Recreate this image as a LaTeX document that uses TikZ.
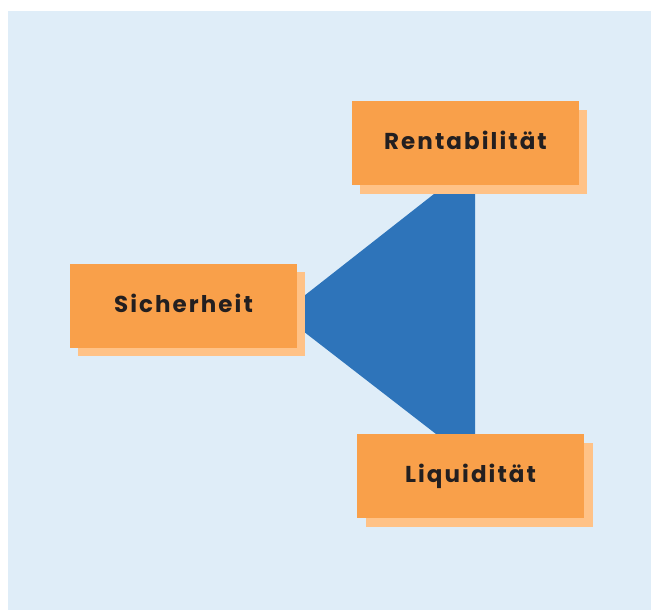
\documentclass[tikz,border=0pt]{standalone}
\usepackage{fontspec}
\setmainfont{Poppins}[LetterSpace=9]
\definecolor{bgblue}{HTML}{DFEDF8}
\definecolor{boxorange}{HTML}{F9A04A}
\definecolor{shadoworange}{HTML}{FFC287}
\definecolor{triblue}{HTML}{2E74BA}
\definecolor{txt}{HTML}{231F20}
\begin{document}
\begin{tikzpicture}[x=1pt,y=-1pt,
  box/.style={fill=boxorange,draw=none,minimum width=227pt,minimum height=84pt,inner sep=0pt,
    text height=13.5pt,text depth=0pt,
    font=\fontsize{23}{26}\selectfont\bfseries,text=txt},
  shadowbox/.style={fill=shadoworange,draw=none,minimum width=227pt,minimum height=84pt,inner sep=0pt}]
\useasboundingbox (0,0) rectangle (651,610);
\fill[bgblue] (8,11) rectangle (651,610);
% triangle
\coordinate (apex) at (281,314);
\fill[triblue] (apex) -- (434,194) -- (475,194) -- (475,434) -- (436,434) -- cycle;
% shadows
\node[shadowbox] (rs) at (473.5,151.5) {};
\node[shadowbox] (ss) at (191.5,314) {};
\node[shadowbox] (ls) at (479.5,484.5) {};
% boxes
\node[box] (r) at (465.5,143) {Rentabilität};
\node[box] (s) at (183.5,306) {Sicherheit};
\node[box] (l) at (470.5,476) {Liquidität};
\end{tikzpicture}
\end{document}
